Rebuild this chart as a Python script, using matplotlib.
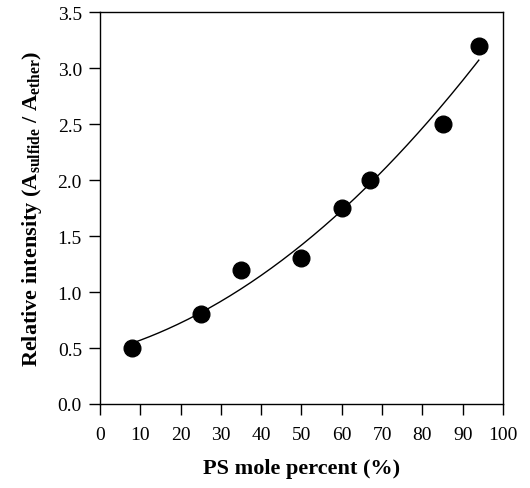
import numpy as np
import matplotlib
matplotlib.use("Agg")
import matplotlib.pyplot as plt

plt.rcParams['font.family'] = ['Liberation Serif', 'DejaVu Serif']
plt.rcParams['mathtext.fontset'] = 'custom'
plt.rcParams['mathtext.rm'] = 'Liberation Serif:bold'
plt.rcParams['mathtext.bf'] = 'Liberation Serif:bold'

# data
ps_percent = [8, 25, 35, 50, 60, 67, 85, 94]
rel_intensity = [0.5, 0.8, 1.2, 1.3, 1.75, 2.0, 2.5, 3.2]

x_ticks = [0, 10, 20, 30, 40, 50, 60, 70, 80, 90, 100]
y_ticks = [0.0, 0.5, 1.0, 1.5, 2.0, 2.5, 3.0, 3.5]

# smooth trend line fitted to the points
coef = np.polyfit(ps_percent, rel_intensity, 2)
xf = np.linspace(min(ps_percent), max(ps_percent), 200)
yf = np.polyval(coef, xf)

fig = plt.figure(figsize=(5.30, 4.89), dpi=100)
ax = fig.add_axes([0.1887, 0.1718, 0.7603, 0.8012])

ax.plot(xf, yf, color='black', lw=1.0)
ax.plot(ps_percent, rel_intensity, 'o', color='black', markersize=12, clip_on=False)

ax.set_xlim(0, 100)
ax.set_ylim(0, 3.5)
ax.set_xticks(x_ticks)
ax.set_yticks(y_ticks)
ax.set_yticklabels([f"{v:.1f}" for v in y_ticks])
ax.tick_params(axis='x', direction='out', length=8, width=1, labelsize=14, pad=8)
ax.tick_params(axis='y', direction='out', length=8, width=1, labelsize=14, pad=5)
for s in ax.spines.values():
    s.set_linewidth(1.0)

ax.set_xlabel('PS mole percent (%)', fontsize=16, fontweight='bold', labelpad=11)
ax.set_ylabel(r'Relative intensity (A$_{\mathbf{sulfide}}$ / A$_{\mathbf{ether}}$)',
              fontsize=16, fontweight='bold', labelpad=10)

fig.savefig('out.png', dpi=100)
